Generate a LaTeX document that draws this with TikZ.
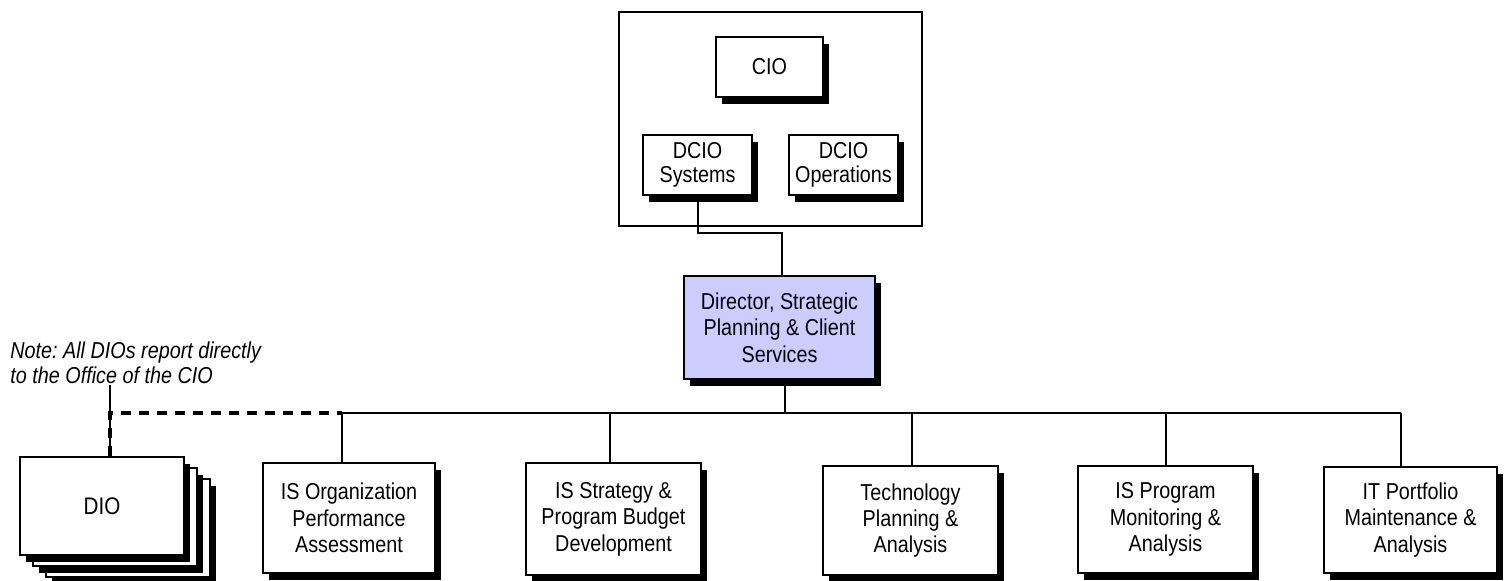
\documentclass[tikz,border=0pt]{standalone}
\usepackage{fontspec}
\setmainfont{Liberation Sans}[FakeStretch=0.86]
\usetikzlibrary{shadows}
\definecolor{dirfill}{RGB}{204,204,255}
\frenchspacing
\begin{document}
\begin{tikzpicture}[x=0.5pt,y=-0.5pt,
  box/.style={draw=black, line width=1pt, fill=white, inner sep=0pt, align=center,
              font=\fontsize{11.5}{13.2}\selectfont},
  sbox/.style={box, general shadow={fill=black, shadow xshift=3pt, shadow yshift=-3.5pt}},
  conn/.style={line width=1pt},
  dconn/.style={line width=2pt, dash pattern=on 5pt off 4pt},
  notestyle/.style={inner sep=0pt, align=left, font=\fontsize{11.5}{12.5}\selectfont\itshape},
]
\useasboundingbox (0,0) rectangle (1510,581);

% top office box
\node[box, minimum width=151.5pt, minimum height=107pt] (office) at (770.5,119) {};
\node[sbox, minimum width=53.5pt, minimum height=30pt] (cio) at (769.5,67) {CIO};
\node[sbox, minimum width=54.5pt, minimum height=30pt, font=\fontsize{11.5}{11.8}\selectfont] (sys) at (697.5,165) {DCIO\\Systems};
\node[sbox, minimum width=54.5pt, minimum height=30pt, font=\fontsize{11.5}{11.8}\selectfont] (ops) at (843.5,165) {DCIO\\Operations};

% director
\node[sbox, fill=dirfill, minimum width=95.5pt, minimum height=51.5pt] (dir) at (779.5,327.5)
  {Director, Strategic\\Planning \& Client\\Services};

% bottom boxes
\node[sbox, minimum width=86pt, minimum height=55pt] (org) at (349,518)
  {IS Organization\\Performance\\Assessment};
\node[sbox, minimum width=87.5pt, minimum height=56pt] (strat) at (613.5,519)
  {IS Strategy \&\\Program Budget\\Development};
\node[sbox, minimum width=87.5pt, minimum height=54.5pt] (tech) at (910.5,520.5)
  {Technology\\Planning \&\\Analysis};
\node[sbox, minimum width=87.5pt, minimum height=53.5pt] (prog) at (1165.5,519.5)
  {IS Program\\Monitoring \&\\Analysis};
\node[sbox, minimum width=86.5pt, minimum height=53pt] (port) at (1410.5,520)
  {IT Portfolio\\Maintenance \&\\Analysis};

% DIO stack
\node[sbox, minimum width=82pt, minimum height=49pt] (dio2) at (128,528) {};
\node[sbox, minimum width=82pt, minimum height=49pt] (dio1) at (115,517) {};
\node[sbox, minimum width=82pt, minimum height=49pt, font=\fontsize{12}{13.2}\selectfont] (dio) at (102,506) {DIO};

% note
\node[notestyle, anchor=north west] (note) at (10,341)
  {Note: All DIOs report directly\\to the Office of the CIO};

% connectors
\coordinate (j1) at (782,233);
\draw[conn] (sys.south) |- (j1) -- (j1 |- dir.north);

\coordinate (b0) at (785,413);
\draw[conn] (dir.south -| b0) -- (b0);

\coordinate (b1) at (342,413);
\coordinate (b2) at (610,413);
\coordinate (b3) at (912,413);
\coordinate (b4) at (1166,413);
\coordinate (b5) at (1401,413);
\draw[conn] (b1) -- (b5);
\draw[conn] (b1) -- (b1 |- org.north);
\draw[conn] (b2) -- (b2 |- strat.north);
\draw[conn] (b3) -- (b3 |- tech.north);
\draw[conn] (b4) -- (b4 |- prog.north);
\draw[conn] (b5) -- (b5 |- port.north);

\coordinate (n0) at (110,385);
\coordinate (d0) at (110,413);
\draw[conn] (n0) -- (n0 |- dio.north);
\draw[dconn] (d0 |- dio.north) -- (d0) -- (b1);
\end{tikzpicture}
\end{document}
